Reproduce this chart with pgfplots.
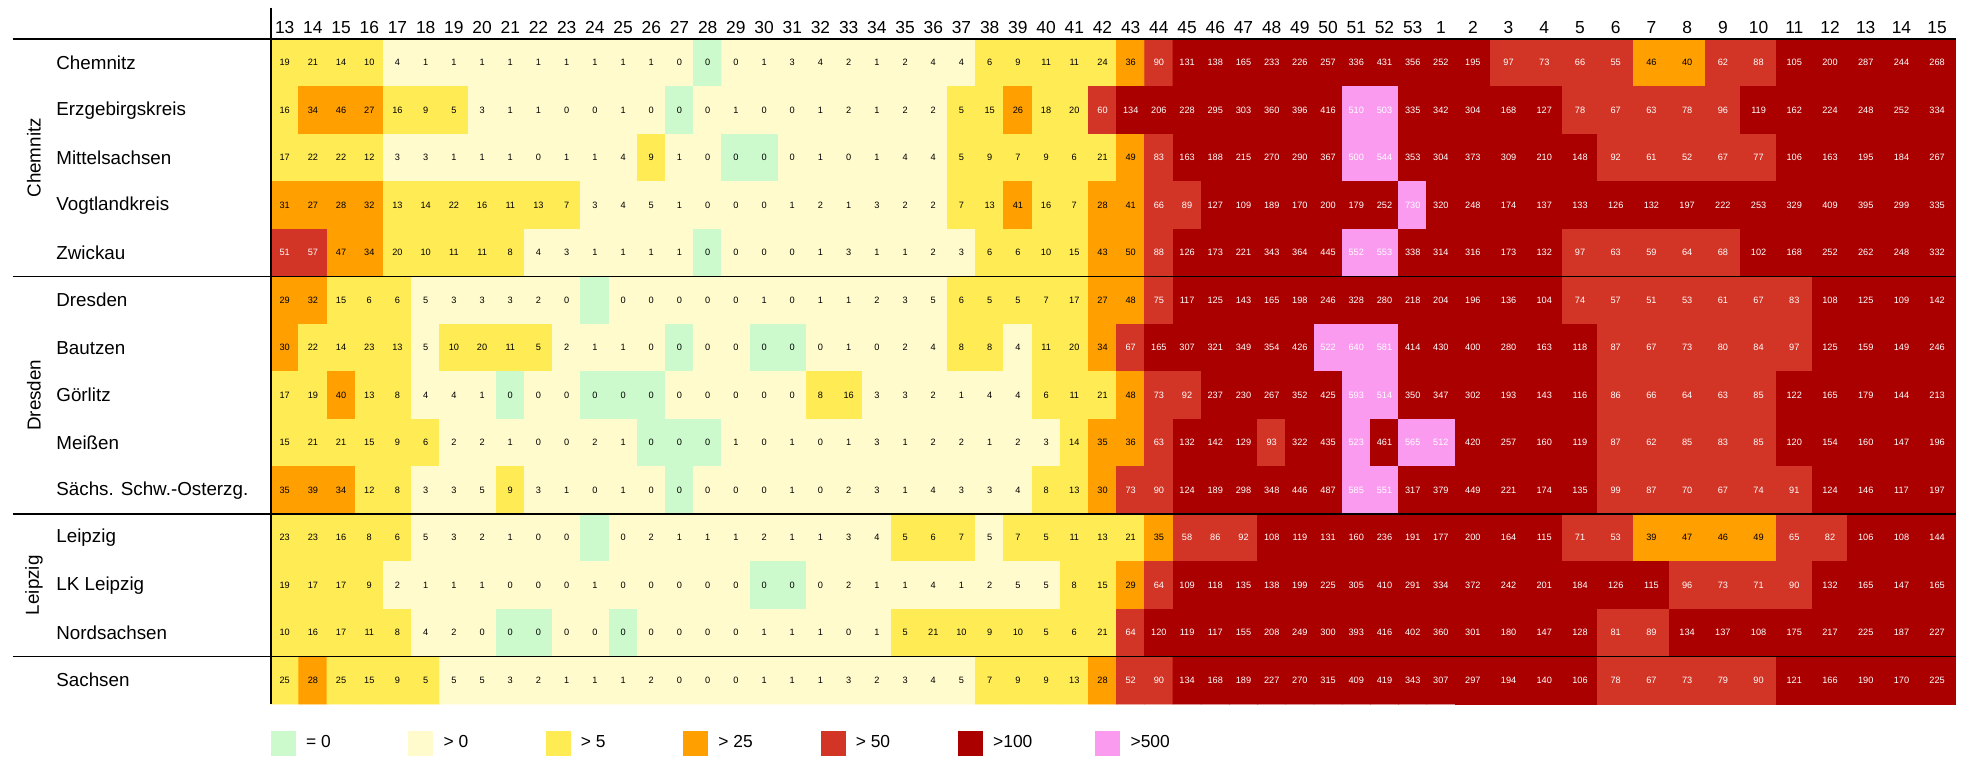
\documentclass[border=0pt]{standalone}
\usepackage{pgfplots}
\pgfplotsset{compat=1.18}
\usepackage{pgfplotstable}
\usepackage{fontspec}
\setmainfont{Liberation Sans}

\definecolor{cA}{RGB}{204,250,204}
\definecolor{cB}{RGB}{255,251,204}
\definecolor{cC}{RGB}{255,236,85}
\definecolor{cD}{RGB}{255,160,0}
\definecolor{cE}{RGB}{210,52,38}
\definecolor{cF}{RGB}{170,0,0}
\definecolor{cG}{RGB}{250,155,240}

\newcommand\hdfont{\fontsize{8.7}{10}\selectfont}
\newcommand\rowfont{\fontsize{9.4}{11}\selectfont}
\newcommand\cellfont{\fontsize{4.6}{5}\selectfont}

% rows: Chemnitz ... Sachsen; left block: weeks 13-53 and 1 (42 values per row)
% -1 = empty cell, decimals only mark the colour class of a rounded value
\pgfplotstableread[row sep=\\]{
v\\
19\\21\\14\\10\\4\\1\\1\\1\\1\\1\\1\\1\\1\\1\\0.3\\0\\0.3\\1\\3\\4\\2\\1\\2\\4\\4\\6\\9\\11\\11\\24\\36\\90\\131\\138\\165\\233\\226\\257\\336\\431\\356\\252\\
16\\34\\46\\27\\16\\9\\5.3\\3\\1\\1\\0.3\\0.3\\1\\0.3\\0\\0.3\\1\\0.3\\0.3\\1\\2\\1\\2\\2\\5.3\\15\\26\\18\\20\\60\\134\\206\\228\\295\\303\\360\\396\\416\\510\\503\\335\\342\\
17\\22\\22\\12\\3\\3\\1\\1\\1\\0.3\\1\\1\\4\\9\\1\\0.3\\0\\0\\0.3\\1\\0.3\\1\\4\\4\\5.3\\9\\7\\9\\6\\21\\49\\83\\163\\188\\215\\270\\290\\367\\500.4\\544\\353\\304\\
31\\27\\28\\32\\13\\14\\22\\16\\11\\13\\7\\3\\4\\5\\1\\0.3\\0.3\\0.3\\1\\2\\1\\3\\2\\2\\7\\13\\41\\16\\7\\28\\41\\66\\89\\127\\109\\189\\170\\200\\179\\252\\730\\320\\
51\\57\\47\\34\\20\\10\\11\\11\\8\\4\\3\\1\\1\\1\\1\\0\\0.3\\0.3\\0.3\\1\\3\\1\\1\\2\\3\\6\\6\\10\\15\\43\\49.6\\88\\126\\173\\221\\343\\364\\445\\552\\553\\338\\314\\
29\\32\\15\\6\\6\\5\\3\\3\\3\\2\\0.3\\-1\\0.3\\0.3\\0.3\\0.3\\0.3\\1\\0.3\\1\\1\\2\\3\\5\\6\\5.3\\5.3\\7\\17\\27\\48\\75\\117\\125\\143\\165\\198\\246\\328\\280\\218\\204\\
30\\22\\14\\23\\13\\5\\10\\20\\11\\5.3\\2\\1\\1\\0.3\\0\\0.3\\0.3\\0\\0\\0.3\\1\\0.3\\2\\4\\8\\8\\4\\11\\20\\34\\67\\165\\307\\321\\349\\354\\426\\522\\640\\581\\414\\430\\
17\\19\\40\\13\\8\\4\\4\\1\\0\\0.3\\0.3\\0\\0\\0\\0.3\\0.3\\0.3\\0.3\\0.3\\8\\16\\3\\3\\2\\1\\4\\4\\6\\11\\21\\48\\73\\92\\237\\230\\267\\352\\425\\593\\514\\350\\347\\
15\\21\\21\\15\\9\\6\\2\\2\\1\\0.3\\0.3\\2\\1\\0\\0\\0\\1\\0.3\\1\\0.3\\1\\3\\1\\2\\2\\1\\2\\3\\14\\35\\36\\63\\132\\142\\129\\93\\322\\435\\523\\461\\565\\512\\
35\\39\\34\\12\\8\\3\\3\\5\\9\\3\\1\\0.3\\1\\0.3\\0\\0.3\\0.3\\0.3\\1\\0.3\\2\\3\\1\\4\\3\\3\\4\\8\\13\\30\\73\\90\\124\\189\\298\\348\\446\\487\\585\\551\\317\\379\\
23\\23\\16\\8\\6\\5\\3\\2\\1\\0.3\\0.3\\-1\\0.3\\2\\1\\1\\1\\2\\1\\1\\3\\4\\5.3\\6\\7\\5\\7\\5.3\\11\\13\\21\\35\\58\\86\\92\\108\\119\\131\\160\\236\\191\\177\\
19\\17\\17\\9\\2\\1\\1\\1\\0.3\\0.3\\0.3\\1\\0.3\\0.3\\0.3\\0.3\\0.3\\0\\0\\0.3\\2\\1\\1\\4\\1\\2\\5\\5\\8\\15\\29\\64\\109\\118\\135\\138\\199\\225\\305\\410\\291\\334\\
10\\16\\17\\11\\8\\4\\2\\0.3\\0\\0\\0.3\\0.3\\0\\0.3\\0.3\\0.3\\0.3\\1\\1\\1\\0.3\\1\\5.3\\21\\10\\9\\10\\5.3\\6\\21\\64\\120\\119\\117\\155\\208\\249\\300\\393\\416\\402\\360\\
25\\28\\25\\15\\9\\5.3\\5\\5\\3\\2\\1\\1\\1\\2\\0.3\\0.3\\0.3\\1\\1\\1\\3\\2\\3\\4\\5\\7\\9\\9\\13\\28\\52\\90\\134\\168\\189\\227\\270\\315\\409\\419\\343\\307\\
}\tabL

% right block: weeks 2-15 (14 values per row)
\pgfplotstableread[row sep=\\]{
v\\
195\\97\\73\\66\\55\\46\\40\\62\\88\\105\\200\\287\\244\\268\\
304\\168\\127\\78\\67\\63\\78\\96\\119\\162\\224\\248\\252\\334\\
373\\309\\210\\148\\92\\61\\52\\67\\77\\106\\163\\195\\184\\267\\
248\\174\\137\\133\\126\\132\\197\\222\\253\\329\\409\\395\\299\\335\\
316\\173\\132\\97\\63\\59\\64\\68\\102\\168\\252\\262\\248\\332\\
196\\136\\104\\74\\57\\51\\53\\61\\67\\83\\108\\125\\109\\142\\
400\\280\\163\\118\\87\\67\\73\\80\\84\\97\\125\\159\\149\\246\\
302\\193\\143\\116\\86\\66\\64\\63\\85\\122\\165\\179\\144\\213\\
420\\257\\160\\119\\87\\62\\85\\83\\85\\120\\154\\160\\147\\196\\
449\\221\\174\\135\\99\\87\\70\\67\\74\\91\\124\\146\\117\\197\\
200\\164\\115\\71\\53\\39\\47\\46\\49\\65\\82\\106\\108\\144\\
372\\242\\201\\184\\126\\115\\96\\73\\71\\90\\132\\165\\147\\165\\
301\\180\\147\\128\\81\\89\\134\\137\\108\\175\\217\\225\\187\\227\\
297\\194\\140\\106\\78\\67\\73\\79\\90\\121\\166\\190\\170\\225\\
}\tabR

\pgfplotsset{
  heat/.style={
    scale only axis, anchor=north west, height=332.5pt,
    ymin=-0.5, ymax=13.5, enlargelimits=false, clip=false,
    axis line style={draw=none}, major tick length=0pt, tick style={draw=none},
    xticklabel pos=right,
    x tick label style={font=\hdfont, inner sep=0pt, anchor=south, yshift=2.4pt},
    colormap={cls}{rgb255=(204,250,204) rgb255=(255,251,204) rgb255=(255,236,85) rgb255=(255,160,0) rgb255=(210,52,38) rgb255=(170,0,0) rgb255=(250,155,240) rgb255=(250,155,240)},
    colormap access=piecewise constant,
    point meta min=0, point meta max=7,
  },
  cls/.style={matrix plot*, forget plot, mesh/cols=#1,
    point meta={ifthenelse(\thisrow{v}>500,6,ifthenelse(\thisrow{v}>100,5,ifthenelse(\thisrow{v}>50,4,ifthenelse(\thisrow{v}>25,3,ifthenelse(\thisrow{v}>5,2,ifthenelse(\thisrow{v}>0,1,0))))))}},
  lbl/.style={draw=none, mark=none, forget plot,
    nodes near coords={\pgfmathprintnumber[fixed,precision=0,assume math mode=true]{\pgfplotspointmeta}},
    point meta=\thisrow{v},
    nodes near coords style={anchor=center, font=\cellfont, inner sep=0pt}},
  table/gridL/.style={x index=0, y index=0,
    x expr={\coordindex-42*floor((\coordindex+0.5)/42)},
    y expr={13-floor((\coordindex+0.5)/42)}},
  table/gridR/.style={x index=0, y index=0,
    x expr={\coordindex-14*floor((\coordindex+0.5)/14)},
    y expr={13-floor((\coordindex+0.5)/14)}},
}

\begin{document}
\begin{tikzpicture}
\useasboundingbox (0,0) rectangle (983pt,-378.5pt);
\begin{axis}[heat, at={(135.3pt,-19.5pt)}, width=592.2pt, xmin=-0.5, xmax=41.5,
  xtick={0,...,41},
  xticklabels={13,14,15,16,17,18,19,20,21,22,23,24,25,26,27,28,29,30,31,32,33,34,35,36,37,38,39,40,41,42,43,44,45,46,47,48,49,50,51,52,53,1},
  ytick={0,...,13},
  yticklabels={Sachsen,Nordsachsen,LK Leipzig,Leipzig,Sächs. Schw.-Osterzg.,Meißen,Görlitz,Bautzen,Dresden,Zwickau,Vogtlandkreis,Mittelsachsen,Erzgebirgskreis,Chemnitz},
  y tick label style={font=\rowfont, anchor=west, inner sep=0pt, xshift=-107.3pt},
  legend columns=7,
  legend image code/.code={\fill[#1] (0pt,-6.25pt) rectangle (12.5pt,6.25pt);},
  legend style={at={(0,0)}, anchor=west, yshift=-19.5pt, draw=none, fill=none,
    inner sep=0pt, font=\hdfont, legend cell align=left,
    /tikz/every odd column/.append style={column sep=3.1pt},
    /tikz/every even column/.append style={column sep=5.1pt}},
]
\addplot[cls=42] table[gridL]{\tabL};
\addplot[lbl, restrict expr to domain={\thisrow{v}}{-0.5:50}, nodes near coords style={text=black}]
  table[gridL]{\tabL};
\addplot[lbl, restrict expr to domain={\thisrow{v}}{50.01:10000}, nodes near coords style={text=white}]
  table[gridL]{\tabL};
\addlegendimage{fill=cA, draw=none}\addlegendentry{\makebox[44pt][l]{= 0}}
\addlegendimage{fill=cB, draw=none}\addlegendentry{\makebox[44pt][l]{> 0}}
\addlegendimage{fill=cC, draw=none}\addlegendentry{\makebox[44pt][l]{> 5}}
\addlegendimage{fill=cD, draw=none}\addlegendentry{\makebox[44pt][l]{> 25}}
\addlegendimage{fill=cE, draw=none}\addlegendentry{\makebox[44pt][l]{> 50}}
\addlegendimage{fill=cF, draw=none}\addlegendentry{\makebox[44pt][l]{>100}}
\addlegendimage{fill=cG, draw=none}\addlegendentry{\makebox[44pt][l]{>500}}
\end{axis}
\begin{axis}[heat, at={(727.5pt,-19.5pt)}, width=250pt, xmin=-0.5, xmax=13.5,
  xtick={0,...,13}, xticklabels={2,3,4,5,6,7,8,9,10,11,12,13,14,15},
  ytick=\empty]
\addplot[cls=14] table[gridR]{\tabR};
\addplot[lbl, restrict expr to domain={\thisrow{v}}{-0.5:50}, nodes near coords style={text=black}]
  table[gridR]{\tabR};
\addplot[lbl, restrict expr to domain={\thisrow{v}}{50.01:10000}, nodes near coords style={text=white}]
  table[gridR]{\tabR};
\end{axis}
\draw[line width=0.8pt] (6.25pt,-19.5pt) -- (978pt,-19.5pt);
\draw[line width=0.85pt] (6.25pt,-138.25pt) -- (978pt,-138.25pt);
\draw[line width=0.85pt] (6.25pt,-257pt) -- (978pt,-257pt);
\draw[line width=0.85pt] (6.25pt,-328.25pt) -- (978pt,-328.25pt);
\draw[line width=1pt] (135.3pt,-3.75pt) -- (135.3pt,-352pt);
\node[rotate=90, font=\rowfont] at (17pt,-78.9pt) {Chemnitz};
\node[rotate=90, font=\rowfont] at (17pt,-197.6pt) {Dresden};
\node[rotate=90, font=\rowfont] at (17pt,-292.6pt) {Leipzig};
\end{tikzpicture}
\end{document}
